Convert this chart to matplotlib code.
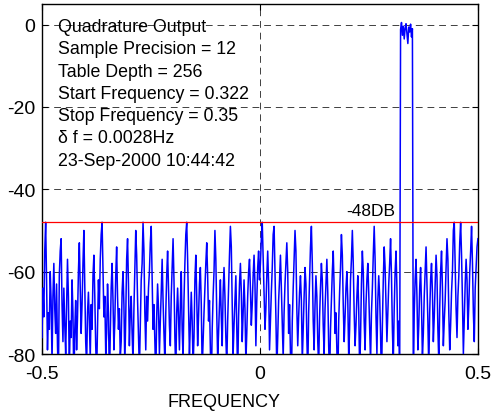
"""Quadrature output spectrum plot."""
import matplotlib
matplotlib.use("Agg")
import matplotlib.pyplot as plt
import numpy as np

plt.rcParams['font.family'] = ['Liberation Sans', 'DejaVu Sans']
plt.rcParams['axes.unicode_minus'] = False

# Spectrum level (dB), one value per frequency bin
level_db = [
    -76, -64, -71, -55, -48, -62, -79, -70, -74, -60, -67, -82, -66, -58, -69, -75, -63, -78, -86, -61,
    -55, -52, -68, -77, -64, -73, -80, -69, -57, -66, -84, -72, -76, -62, -70, -88, -74, -67, -79, -71,
    -60, -53, -64, -75, -68, -58, -50, -63, -77, -83, -70, -65, -72, -81, -68, -74, -61, -56, -66, -78,
    -85, -73, -62, -69, -57, -51, -48, -59, -71, -66, -80, -75, -63, -70, -87, -76, -64, -58, -67, -79,
    -72, -61, -54, -66, -74, -69, -81, -77, -65, -60, -68, -83, -71, -57, -52, -63, -78, -70, -66, -75,
    -82, -69, -59, -50, -56, -67, -76, -84, -73, -62, -58, -48, -55, -70, -79, -66, -72, -64, -60, -53,
    -49, -61, -74, -68, -77, -86, -71, -63, -69, -80, -72, -65, -57, -67, -75, -82, -70, -61, -55, -64,
    -73, -78, -66, -59, -52, -62, -76, -85, -70, -64, -71, -79, -68, -60, -74, -81, -67, -58, -51, -48,
    -57, -69, -80, -73, -65, -72, -83, -76, -62, -56, -66, -78, -71, -63, -59, -68, -84, -77, -70, -64,
    -58, -53, -61, -72, -67, -79, -88, -74, -66, -60, -50, -57, -70, -81, -75, -68, -62, -71, -78, -65,
    -59, -66, -76, -83, -72, -64, -56, -49, -54, -68, -80, -73, -67, -61, -74, -86, -71, -63, -58, -65,
    -77, -70, -62, -69, -82, -75, -66, -60, -57, -64, -73, -68, -61, -56, -63, -78, -67, -59, -55, -62,
    -58, -52, -48, -57, -66, -74, -69, -61, -55, -63, -79, -72, -65, -59, -51, -49, -60, -71, -84, -76,
    -67, -62, -56, -64, -73, -81, -70, -63, -58, -53, -60, -75, -68, -80, -87, -72, -64, -57, -50, -55,
    -69, -78, -71, -65, -61, -67, -82, -74, -66, -59, -63, -76, -85, -70, -62, -54, -49, -58, -72, -79,
    -68, -61, -66, -77, -83, -71, -64, -58, -62, -73, -80, -69, -63, -57, -65, -78, -86, -74, -67, -60,
    -55, -64, -75, -70, -79, -88, -72, -65, -59, -51, -56, -68, -77, -71, -64, -60, -67, -81, -74, -62,
    -57, -50, -58, -70, -78, -73, -66, -61, -69, -84, -76, -63, -55, -60, -72, -79, -68, -62, -58, -65,
    -74, -82, -70, -64, -56, -49, -57, -71, -80, -67, -61, -66, -75, -87, -73, -62, -54, -59, -68, -77,
    -70, -63, -58, -52, -61, -74, -82, -69, -60, -55, -64, -78, -72, -86,
    # tone band 0.322 .. 0.35
    -1.2, 0.5, -2.6, -0.4, -3.5, -0.9, 0.2, -2.2, -4.6, -0.6, -1.8, 0.1, -3.0, -1.0,
    -89, -70, -62, -57, -66, -79, -73, -64, -59, -68, -81, -75,
    -66, -60, -54, -63, -72, -84, -70, -62, -58, -65, -77, -71, -63, -56, -61, -74, -82, -69, -60, -55,
    -64, -78, -72, -67, -59, -52, -57, -70, -79, -73, -65, -60, -50, -48, -58, -69, -76, -66, -61, -53,
    -48, -56, -67, -80, -71, -63, -57, -62, -74, -68, -60, -55, -49, -58, -70, -77, -64, -59, -54, -52,
]
freq = np.linspace(-0.5, 0.5, len(level_db))

threshold_db = -48
info_lines = [
    "Quadrature Output",
    "Sample Precision = 12",
    "Table Depth = 256",
    "Start Frequency = 0.322",
    "Stop Frequency = 0.35",
    "\u03b4 f = 0.0028Hz",
    "23-Sep-2000 10:44:42",
]

fig = plt.figure(figsize=(4.92, 4.14), dpi=100)
ax = fig.add_axes([0.0854, 0.1425, 0.886, 0.8455])

ax.plot(freq, level_db, color=(0, 0, 1), lw=1.1, zorder=3)
ax.axhline(threshold_db, color=(1, 0, 0), lw=0.9, zorder=3)
ax.text(0.197, threshold_db + 1.0, "%dDB" % threshold_db, fontsize=12.5,
        va='bottom', ha='left', zorder=1)

for k, line in enumerate(info_lines):
    ax.text(-0.464, -0.5 - k * 5.4, line, fontsize=12.8, va='center', ha='left', zorder=1)

ax.set_xlim(-0.5, 0.5)
ax.set_ylim(-80, 5)
ax.set_xticks([-0.5, 0, 0.5])
ax.set_xticklabels(["-0.5", "0", "0.5"])
ax.set_yticks([-80, -60, -40, -20, 0])
ax.set_yticklabels(["-80", "-60", "-40", "-20", "0"])
ax.tick_params(direction='in', top=True, right=True, labelsize=14, length=4, width=0.8)
ax.tick_params(axis='y', pad=5)
ax.tick_params(axis='x', pad=8)

ax.set_axisbelow(False)
ax.grid(True, color='k', ls=(0, (7, 5)), lw=0.7, alpha=0.75)

ax.set_xlabel("FREQUENCY", fontsize=13)
ax.xaxis.set_label_coords(0.417, -0.11)

for s in ax.spines.values():
    s.set_linewidth(1.0)

fig.savefig("out.png", dpi=100)
